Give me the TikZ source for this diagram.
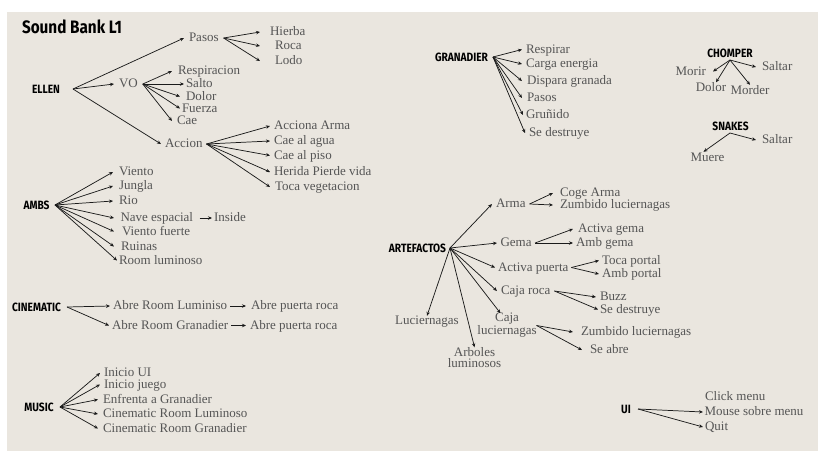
\documentclass[tikz,border=0pt]{standalone}
\usepackage{fontspec}
\setmainfont{Liberation Serif}
\newfontfamily\hdrfont[FakeStretch=0.85]{Fira Sans}
\usetikzlibrary{arrows.meta,calc}
\definecolor{bg}{HTML}{EAE6DF}
\definecolor{txt}{HTML}{555555}
\definecolor{ink}{HTML}{1A1A1A}
\tikzset{
 lf/.style={anchor=west, inner ysep=0pt, inner xsep=2.25pt, outer sep=0pt, text=txt,
   font=\fontsize{9.75pt}{11pt}\selectfont, text height=7pt, text depth=1.5pt},
 pad/.style={inner xsep=#1*0.75pt},
 hdr/.style={anchor=center, inner sep=0pt, outer sep=0pt, text=black, text height=6.2pt, text depth=0pt,
   font=\hdrfont\bfseries\fontsize{9pt}{10pt}\selectfont},
 arr/.style={draw=ink, line width=0.55pt, -{Stealth[length=3pt,width=2.6pt]}},
 ml/.style={align=center, inner sep=0pt, outer sep=0pt, text=txt},
}
\begin{document}
\begin{tikzpicture}[x=0.75pt,y=-0.75pt]
\useasboundingbox (0,0) rectangle (818,451);
\fill[bg] (7,12) rectangle (818,451);

% title
\node[hdr, text height=9.3pt, font=\hdrfont\bfseries\fontsize{13.5pt}{15pt}\selectfont] (title) at (72,27.5) {Sound Bank L1};

% ELLEN
\node[hdr] (ellen) at (46,89) {ELLEN};
\coordinate (ellenO) at (73,89);
\node[lf,pad=5] (pasos) at (184,38) {Pasos};
\node[lf,pad=10] (hierba) at (260,32) {Hierba};
\node[lf,pad=15] (roca) at (260,46) {Roca};
\node[lf,pad=15] (lodo) at (260,61) {Lodo};
\node[lf,pad=5] (vo) at (114,84) {VO};
\node[lf,pad=6] (resp) at (172,71) {Respiracion};
\node[lf,pad=2] (salto) at (184,84) {Salto};
\node[lf,pad=6] (dolor) at (180,96.5) {Dolor};
\node[lf,pad=2] (fuerza) at (180,108.5) {Fuerza};
\node[lf,pad=5] (cae) at (172,121) {Cae};
\node[lf,pad=4] (accion) at (161,144) {Accion};
\node[lf,pad=4] (accarma) at (270,126) {Acciona Arma};
\node[lf,pad=4] (caeagua) at (270,141) {Cae al agua};
\node[lf,pad=4] (caepiso) at (270,155.5) {Cae al piso};
\node[lf,pad=4] (herida) at (270,172) {Herida Pierde vida};
\node[lf,pad=5] (tocaveg) at (270,187) {Toca vegetacion};
\foreach \c in {pasos,vo,accion} \draw[arr] (ellenO) -- (\c.west);
\foreach \c in {hierba,roca,lodo} \draw[arr] (pasos.east) -- (\c.west);
\foreach \c in {resp,salto,dolor,fuerza,cae} \draw[arr] (vo.east) -- (\c.west);
\foreach \c in {accarma,caeagua,caepiso,herida,tocaveg} \draw[arr] (accion.east) -- (\c.west);

% AMBS
\node[hdr] (ambs) at (36.5,205) {AMBS};
\coordinate (ambsO) at (55,205);
\node[lf,pad=6] (viento) at (113,172) {Viento};
\node[lf,pad=6] (jungla) at (113,186) {Jungla};
\node[lf,pad=6] (rio) at (113,201) {Rio};
\node[lf,pad=6.5] (nave) at (114,218) {Nave espacial};
\node[lf,pad=2] (inside) at (212,218) {Inside};
\node[lf,pad=8] (vfuerte) at (114,231.5) {Viento fuerte};
\node[lf,pad=7] (ruinas) at (114,246.5) {Ruinas};
\node[lf,pad=2] (roomlum) at (117,260.5) {Room luminoso};
\foreach \c in {viento,jungla,rio,nave,vfuerte,ruinas,roomlum} \draw[arr] (ambsO) -- (\c.west);
\draw[arr] (nave.east) -- (inside.west);

% CINEMATIC
\node[hdr] (cine) at (36.5,307) {CINEMATIC};
\coordinate (cineO) at (67,307);
\node[lf,pad=3] (abrl) at (110,306) {Abre Room Luminiso};
\node[lf,pad=5] (apr1) at (246,306) {Abre puerta roca};
\node[lf,pad=3] (abrg) at (109,325.5) {Abre Room Granadier};
\node[lf,pad=4] (apr2) at (246,325.5) {Abre puerta roca};
\draw[arr] (cineO) -- (abrl.west);
\draw[arr] (cineO) -- (abrg.west);
\draw[arr] (abrl.east) -- (apr1.west);
\draw[arr] (abrg.east) -- (apr2.west);

% MUSIC
\node[hdr] (music) at (39,407) {MUSIC};
\coordinate (musicO) at (60,407);
\node[lf,pad=4] (iniui) at (100,373) {Inicio UI};
\node[lf,pad=4] (inij) at (100,384.5) {Inicio juego};
\node[lf,pad=5] (enfr) at (98,399.5) {Enfrenta a Granadier};
\node[lf,pad=5] (cinrl) at (98,414) {Cinematic Room Luminoso};
\node[lf,pad=5] (cinrg) at (98,428.5) {Cinematic Room Granadier};
\foreach \c in {iniui,inij,enfr,cinrl,cinrg} \draw[arr] (musicO) -- (\c.west);

% GRANADIER
\node[hdr] (gran) at (461.5,57) {GRANADIER};
\coordinate (granO) at (493,57);
\node[lf,pad=4] (respirar) at (522,49.5) {Respirar};
\node[lf,pad=4] (carga) at (522,64) {Carga energia};
\node[lf,pad=5] (dispara) at (522,81) {Dispara granada};
\node[lf,pad=5] (gpasos) at (522,98) {Pasos};
\node[lf,pad=3] (grunido) at (523,115) {Gruñido};
\node[lf,pad=4] (gsedes) at (525,133) {Se destruye};
\foreach \c in {respirar,carga,dispara,gpasos,grunido,gsedes} \draw[arr] (granO) -- (\c.west);

% CHOMPER
\node[hdr] (chomp) at (730,53) {CHOMPER};
\coordinate (chompO) at (730,60);
\node[lf,anchor=east,pad=7] (morir) at (713,71.5) {Morir};
\node[lf,pad=6] (csaltar) at (756,67) {Saltar};
\node[lf,anchor=center] (cdolor) at (711,88) {Dolor};
\node[lf,anchor=center] (morder) at (750,90.5) {Morder};
\draw[arr] (chompO) -- (morir.east);
\draw[arr] (chompO) -- (csaltar.west);
\draw[arr] (chompO) -- ([xshift=3.75pt]cdolor.north);
\draw[arr] (chompO) -- (morder.north);

% SNAKES
\node[hdr] (snakes) at (730.5,126) {SNAKES};
\coordinate (snakesO) at (730,133);
\node[lf,pad=6] (ssaltar) at (756,140) {Saltar};
\node[lf,anchor=center] (muere) at (707.5,157.5) {Muere};
\draw[arr] (snakesO) -- (ssaltar.west);
\draw[arr] (snakesO) -- ([xshift=-3pt]muere.north);

% ARTEFACTOS
\node[hdr] (art) at (417.5,248) {ARTEFACTOS};
\coordinate (artO) at (450,248);
\node[lf,pad=4] (arma) at (492,204) {Arma};
\node[lf,pad=7] (coge) at (553,193) {Coge Arma};
\node[lf,pad=7] (zumb1) at (553,205) {Zumbido luciernagas};
\node[lf,pad=3.5] (gema) at (497,243) {Gema};
\node[lf,pad=5] (actg) at (573,229) {Activa gema};
\node[lf,pad=3] (ambg) at (573,243) {Amb gema};
\node[lf,pad=3] (actp) at (495,267.5) {Activa puerta};
\node[lf,pad=3] (tocap) at (599,260.5) {Toca portal};
\node[lf,pad=3] (ambp) at (599,274) {Amb portal};
\node[lf,pad=4] (cajar) at (497,291) {Caja roca};
\node[lf,pad=4] (buzz) at (596,297) {Buzz};
\node[lf,pad=2] (sedes2) at (598,309.5) {Se destruye};
\node[ml,font=\fontsize{9.75pt}{7.5pt}\selectfont] (luc) at (427,321.5) {Luciernagas};
\node[ml,font=\fontsize{9.75pt}{8.5pt}\selectfont] (arb) at (474.5,357.5) {Arboles\\luminosos};
\node[ml,font=\fontsize{9.75pt}{7pt}\selectfont] (cajal) at (507,325.5) {Caja\\luciernagas};
\node[lf,pad=8] (zumb2) at (573,332) {Zumbido luciernagas};
\node[lf,pad=8] (seabre) at (582,350) {Se abre};
\foreach \c in {arma,gema,actp,cajar} \draw[arr] (artO) -- (\c.west);
\draw[arr] (artO) -- (luc.north);
\draw[arr] (artO) -- (arb.north);
\draw[arr] (artO) -- (cajal.118);
\foreach \c in {coge,zumb1} \draw[arr] (arma.east) -- (\c.west);
\foreach \c in {actg,ambg} \draw[arr] (gema.east) -- (\c.west);
\foreach \c in {tocap,ambp} \draw[arr] (actp.east) -- (\c.west);
\foreach \c in {buzz,sedes2} \draw[arr] (cajar.east) -- (\c.west);
\foreach \c in {zumb2,seabre} \draw[arr] (cajal.east) -- (\c.west);

% UI
\node[hdr] (ui) at (626,409) {UI};
\coordinate (uiO) at (638,409);
\node[lf,pad=3] (click) at (702,397) {Click menu};
\node[lf,pad=1.5] (mouse) at (703,412) {Mouse sobre menu};
\node[lf,pad=2] (quit) at (703,427) {Quit};
\draw[arr] (uiO) -- (mouse.west);
\draw[arr] (uiO) -- (quit.west);
\end{tikzpicture}
\end{document}
